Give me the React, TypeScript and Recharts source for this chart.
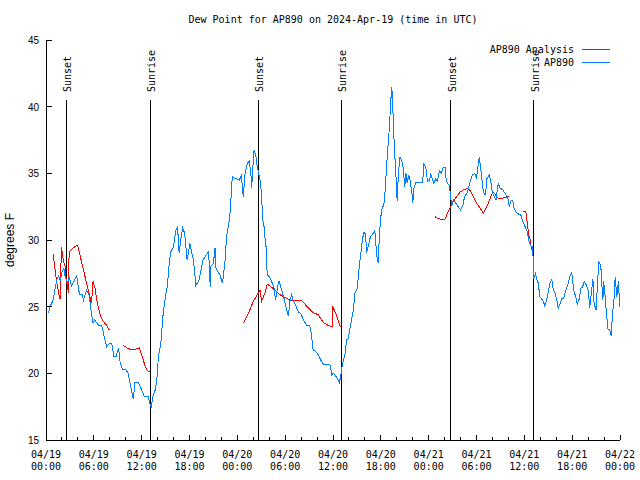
import { LineChart, Line, XAxis, YAxis, ReferenceLine } from 'recharts';

// hours since 2024-04-19 00:00 UTC
const obsHours = [
  0.3, 0.5, 0.9, 1.1, 1.4, 1.6, 1.8, 2.0, 2.25, 2.4, 2.7, 2.9, 3.2, 3.85, 4.2, 4.5, 4.7, 5.1, 5.4, 5.7,
  5.9, 6.1, 6.6, 7.0, 7.4, 7.6, 7.95, 8.25, 8.5, 8.8, 9.1, 9.3, 9.6, 10.0, 10.3, 10.6, 10.95, 11.15, 11.6, 12.0,
  12.3, 12.8, 13.2, 13.4, 13.7, 13.9, 14.1, 14.4, 14.7, 15.05, 15.2, 15.5, 15.65, 16.0, 16.3, 16.5, 16.7, 16.9, 17.15, 17.4,
  17.7, 18.05, 18.3, 18.5, 18.8, 19.2, 19.7, 20.1, 20.4, 20.6, 20.65, 21.0, 21.2, 21.3, 21.8, 22.15, 22.45, 22.65, 23.0, 23.15,
  23.3, 23.4, 23.7, 23.9, 24.25, 24.5, 24.75, 24.95, 25.25, 25.5, 25.7, 25.8, 25.9, 26.1, 26.3, 26.5, 26.75, 26.9, 27.05, 27.2,
  27.35, 27.5, 27.6, 27.75, 28.0, 28.3, 28.6, 28.8, 29.0, 29.2, 29.4, 29.8, 30.1, 30.4, 30.6, 30.8, 31.0, 31.2, 31.65, 31.95,
  32.3, 32.7, 33.1, 33.3, 33.5, 33.9, 34.15, 34.45, 34.8, 35.3, 35.6, 35.85, 36.05, 36.4, 36.8, 37.0, 37.2, 37.5, 37.7, 37.9,
  38.2, 38.55, 38.75, 39.05, 39.3, 39.5, 39.7, 39.9, 40.1, 40.2, 40.4, 40.7, 41.05, 41.25, 41.5, 41.7, 41.8, 42.0, 42.2, 42.35,
  42.5, 42.8, 43.05, 43.25, 43.35, 43.5, 43.55, 43.7, 43.9, 44.05, 44.2, 44.4, 44.65, 44.8, 45.0, 45.15, 45.3, 45.5, 45.65, 45.9,
  46.0, 46.15, 46.4, 46.9, 47.25, 47.4, 47.65, 47.85, 48.15, 48.2, 48.65, 48.9, 49.1, 49.35, 49.6, 49.8, 50.05, 50.2, 50.35, 50.6,
  50.75, 50.9, 51.1, 51.4, 51.7, 52.0, 52.3, 52.5, 52.8, 53.0, 53.2, 53.5, 53.8, 54.0, 54.2, 54.35, 54.5, 54.65, 54.85, 55.05,
  55.15, 55.3, 55.6, 55.8, 56.0, 56.25, 56.45, 56.65, 56.75, 56.95, 57.3, 57.6, 57.8, 58.0, 58.1, 58.3, 58.55, 58.7, 58.95, 59.25,
  59.55, 59.8, 60.1, 60.4, 60.5, 60.7, 60.9, 61.05, 61.1, 61.2, 61.4, 61.55, 61.75, 61.95, 62.2, 62.4, 62.55, 62.8, 63.0, 63.2,
  63.45, 63.6, 63.85, 64.05, 64.25, 64.5, 64.7, 64.9, 65.1, 65.3, 65.5, 65.7, 65.95, 66.05, 66.2, 66.5, 66.65, 66.9, 67.1, 67.3,
  67.5, 67.8, 68.05, 68.2, 68.4, 68.6, 68.75, 69.0, 69.2, 69.35, 69.6, 69.7, 69.85, 69.95, 70.1, 70.3, 70.5, 70.7, 70.9, 71.05,
  71.25, 71.4, 71.6, 71.8, 71.9, 71.95, 72.0,
];
const obsDew = [
  24.5, 25.0, 25.5, 26.25, 27.1, 27.3, 26.9, 27.6, 27.9, 27.25, 26.75, 27.25, 26.55, 27.3, 25.9, 25.95, 25.5, 26.25, 25.9, 24.5,
  23.8, 24.0, 23.6, 23.55, 22.5, 22.0, 22.25, 22.25, 21.3, 21.3, 21.9, 20.8, 20.3, 20.3, 20.0, 19.1, 18.05, 19.3, 19.3, 18.75,
  18.3, 18.25, 17.4, 18.25, 18.75, 19.5, 21.25, 22.25, 24.5, 26.0, 26.45, 28.5, 29.1, 29.5, 30.75, 31.0, 29.0, 30.0, 30.9, 30.5,
  28.5, 29.75, 29.0, 28.5, 26.6, 27.0, 28.5, 28.9, 29.1, 26.5, 28.0, 28.25, 29.4, 27.9, 27.4, 26.75, 28.4, 30.25, 31.5, 32.5,
  34.25, 34.75, 34.6, 34.6, 34.5, 34.8, 33.25, 34.9, 35.75, 35.9, 35.0, 33.9, 35.05, 36.75, 36.4, 35.5, 34.75, 34.4, 33.1, 31.5,
  31.0, 30.0, 29.5, 27.4, 27.25, 26.9, 26.4, 25.5, 26.25, 26.95, 26.6, 25.75, 25.0, 24.3, 25.4, 25.9, 25.5, 25.25, 24.6, 24.5,
  24.0, 23.6, 23.55, 22.9, 21.75, 21.6, 21.4, 21.0, 20.7, 20.7, 20.7, 19.9, 20.0, 19.75, 19.3, 19.9, 20.75, 21.4, 22.5, 22.6,
  23.6, 24.75, 26.0, 26.4, 28.1, 29.0, 30.1, 30.6, 30.4, 29.0, 29.5, 30.25, 30.5, 30.7, 28.75, 28.25, 30.25, 31.75, 32.5, 32.5,
  33.4, 36.25, 38.25, 40.4, 41.5, 40.6, 38.75, 37.0, 34.75, 32.9, 35.0, 36.25, 35.9, 35.4, 34.0, 35.0, 34.25, 34.9, 34.5, 33.5,
  32.75, 33.9, 34.3, 34.3, 34.3, 35.75, 35.4, 34.4, 34.5, 35.0, 34.25, 34.6, 34.4, 35.2, 35.0, 35.4, 35.45, 34.5, 34.25, 34.1,
  33.25, 32.6, 33.0, 32.75, 32.5, 32.25, 32.6, 33.25, 33.5, 33.9, 34.4, 34.9, 35.0, 34.6, 35.6, 36.2, 35.5, 34.75, 33.6, 33.4,
  33.5, 34.6, 34.9, 34.4, 33.5, 33.25, 33.0, 34.0, 34.2, 33.9, 33.75, 33.5, 33.25, 33.0, 32.5, 32.9, 33.0, 32.4, 32.1, 31.95,
  31.9, 31.4, 31.0, 30.6, 30.1, 29.75, 29.5, 29.5, 28.6, 27.1, 27.5, 27.1, 26.75, 25.75, 25.55, 25.4, 25.05, 25.5, 26.1, 26.75,
  27.05, 26.4, 26.0, 25.6, 24.9, 25.25, 25.6, 25.6, 26.0, 26.4, 26.75, 27.25, 27.55, 27.0, 26.25, 25.6, 25.2, 25.6, 26.4, 26.45,
  26.9, 26.6, 26.1, 24.9, 26.0, 27.1, 25.25, 24.75, 27.0, 28.4, 28.0, 26.9, 25.5, 26.9, 26.0, 24.5, 23.3, 23.25, 22.8, 24.4,
  25.6, 27.25, 25.75, 26.9, 25.75, 25.0, 25.0,
];

// analysis values, null = no analysis (gap in line)
const anaHours = [
  0.9, 1.1, 1.35, 1.55, 1.7, 1.85, 1.9, 2.05, 2.2, 2.4, 2.5, 2.7, 2.8, 2.9, 3.2, 3.65, 3.95, 4.25, 4.6, 4.9,
  5.2, 5.45, 5.7, 5.9, 6.15, 6.35, 6.55, 6.85, 7.2, 7.6, 7.95, 8.8,
  9.7, 10.2, 10.75, 11.15, 11.7, 12.0, 12.4, 12.7, 13.05, 18.0,
  24.75, 25.4, 26.0, 26.6, 26.85, 27.05, 27.5, 27.75, 28.3, 28.7, 29.35, 30.7, 32.1, 32.9, 33.5, 34.15, 34.8, 35.4,
  35.9, 35.95, 36.4, 36.9, 42.0,
  48.8, 49.2, 49.6, 50.05, 50.35, 50.7, 51.1, 51.5, 51.95, 52.35, 53.0, 53.4, 54.0, 54.45, 54.85, 55.3, 55.7, 56.05, 56.3, 56.75,
  57.15, 57.6, 58.1, 59.0,
  59.9, 60.2, 60.4, 60.6, 60.75, 60.9,
];
const anaDew = [
  28.95, 28.0, 26.75, 26.25, 25.6, 25.6, 29.5, 29.0, 28.4, 28.0, 27.25, 26.6, 26.0, 29.1, 29.3, 29.5, 29.6, 28.9, 28.0, 27.25,
  26.5, 25.9, 25.25, 26.9, 26.4, 25.6, 25.0, 24.25, 23.9, 23.6, 23.25, null,
  22.1, 21.9, 21.75, 21.8, 21.9, 21.4, 20.6, 20.2, 20.1, null,
  23.75, 24.5, 25.4, 26.0, 26.25, 25.4, 26.1, 26.7, 26.45, 26.25, 25.9, 25.45, 25.45, 24.9, 24.55, 24.4, 23.8, 23.6,
  23.5, 25.05, 24.4, 23.5, null,
  31.75, 31.6, 31.55, 31.55, 32.0, 32.4, 32.9, 33.25, 33.6, 33.75, 33.9, 33.5, 32.75, 32.4, 32.0, 32.5, 33.1, 33.6, 33.45, 33.1,
  33.1, 33.2, 33.25, null,
  32.15, 32.1, 31.1, 30.25, 30.0, 29.25,
];

const sunNames = ['Sunset', 'Sunrise', 'Sunset', 'Sunrise', 'Sunset', 'Sunrise'];
const sunHours = [2.55, 13.05, 26.63, 37.04, 50.77, 61.18];

const xTicks = [
  0, 2, 4, 6, 8, 10, 12, 14, 16, 18, 20, 22, 24, 26, 28, 30, 32, 34, 36,
  38, 40, 42, 44, 46, 48, 50, 52, 54, 56, 58, 60, 62, 64, 66, 68, 70, 72,
];
const xDays = ['04/19', '04/20', '04/21', '04/22'];
const yTicks = [15, 20, 25, 30, 35, 40, 45];

const series = [
  { name: 'AP890 Analysis', color: '#ff0000' },
  { name: 'AP890', color: '#0080ff' },
];

const obsData = obsHours.map((h, i) => ({ h, v: obsDew[i] }));
const anaData = anaHours.map((h, i) => ({ h, v: anaDew[i] }));

const MONO = '"DejaVu Sans Mono", monospace';
const SANS = '"Liberation Sans", Arial, sans-serif';
const CRISP = 'crispEdges';

function BottomTick({ x, y, payload }: any) {
  const h = payload.value;
  const major = h % 6 === 0;
  return (
    <g>
      <line x1={x} y1={y} x2={x} y2={y - (major ? 5 : 3)} stroke="#000" shapeRendering={CRISP} />
      {major && (
        <text x={x} y={y + 18} textAnchor="middle" fontFamily={MONO} fontSize={10} fill="#000">
          <tspan x={x}>{xDays[Math.floor(h / 24)]}</tspan>
          <tspan x={x} dy={12}>{String(h % 24).padStart(2, '0')}:00</tspan>
        </text>
      )}
    </g>
  );
}

function TopTick({ x, y, payload }: any) {
  const major = payload.value % 6 === 0;
  return <line x1={x} y1={y} x2={x} y2={y + (major ? 5 : 3)} stroke="#000" shapeRendering={CRISP} />;
}

function LeftTick({ x, y, payload }: any) {
  return (
    <g>
      <line x1={x} y1={y} x2={x + 6} y2={y} stroke="#000" shapeRendering={CRISP} />
      <text x={x - 7} y={y + 4} textAnchor="end" fontFamily={SANS} fontSize={10} fill="#000">
        {payload.value}
      </text>
    </g>
  );
}

function RightTick({ x, y }: any) {
  return <line x1={x} y1={y} x2={x - 6} y2={y} stroke="#000" shapeRendering={CRISP} />;
}

const sunLabel = (name: string) => ({ viewBox }: any) => (
  <text
    transform={`translate(${viewBox.x + 5},${viewBox.y - 8}) rotate(-90)`}
    fontFamily={MONO}
    fontSize={10}
    fill="#000"
  >
    {name}
  </text>
);

export default function App() {
  return (
    <div style={{ position: 'absolute', left: 0, top: 0, width: 640, height: 480, background: '#fff' }}>
      <LineChart width={640} height={480} margin={{ top: 40, right: 20, bottom: 0, left: 0 }}>
        <XAxis
          xAxisId={0}
          dataKey="h"
          type="number"
          domain={[0, 72]}
          ticks={xTicks}
          interval={0}
          height={40}
          tickSize={0}
          tickMargin={0}
          tickLine={false}
          tick={<BottomTick />}
          axisLine={{ stroke: '#000', shapeRendering: CRISP }}
          allowDataOverflow
        />
        <XAxis
          xAxisId="top"
          orientation="top"
          dataKey="h"
          type="number"
          domain={[0, 72]}
          ticks={xTicks}
          interval={0}
          height={0}
          tickSize={0}
          tickMargin={0}
          tickLine={false}
          tick={<TopTick />}
          axisLine={{ stroke: '#000', shapeRendering: CRISP }}
          allowDataOverflow
        />
        <YAxis
          yAxisId={0}
          type="number"
          domain={[15, 45]}
          ticks={yTicks}
          interval={0}
          width={46}
          tickSize={0}
          tickMargin={0}
          tickLine={false}
          tick={<LeftTick />}
          axisLine={{ stroke: '#000', shapeRendering: CRISP }}
          allowDataOverflow
        />
        <YAxis
          yAxisId="right"
          orientation="right"
          type="number"
          domain={[15, 45]}
          ticks={yTicks}
          interval={0}
          width={0}
          tickSize={0}
          tickMargin={0}
          tickLine={false}
          tick={<RightTick />}
          axisLine={{ stroke: '#000', shapeRendering: CRISP }}
          allowDataOverflow
        />
        {sunHours.map((h, i) => (
          <ReferenceLine
            key={i}
            segment={[{ x: h, y: 40.5 }, { x: h, y: 15 }]}
            stroke="#000"
            strokeWidth={1}
            shapeRendering={CRISP}
            label={sunLabel(sunNames[i])}
          />
        ))}
        <Line
          data={anaData}
          dataKey="v"
          name={series[0].name}
          type="linear"
          stroke={series[0].color}
          strokeWidth={1}
          shapeRendering={CRISP}
          dot={false}
          connectNulls={false}
          isAnimationActive={false}
        />
        <Line
          data={obsData}
          dataKey="v"
          name={series[1].name}
          type="linear"
          stroke={series[1].color}
          strokeWidth={1}
          shapeRendering={CRISP}
          dot={false}
          isAnimationActive={false}
        />
      </LineChart>
      {/* title, axis label and key drawn on top, gnuplot style */}
      <svg width={640} height={480} style={{ position: 'absolute', left: 0, top: 0, pointerEvents: 'none' }}>
        <text x={333} y={23} textAnchor="middle" fontFamily={MONO} fontSize={10} fill="#000">
          Dew Point for AP890 on 2024-Apr-19 (time in UTC)
        </text>
        <text transform="translate(14,240) rotate(-90)" textAnchor="middle" fontFamily={SANS} fontSize={12} fill="#000">
          degrees F
        </text>
        {series.map((s, i) => (
          <g key={s.name}>
            <text x={574} y={53 + i * 13} textAnchor="end" fontFamily={MONO} fontSize={10} fill="#000">
              {s.name}
            </text>
            <line x1={582} y1={49.5 + i * 13} x2={610} y2={49.5 + i * 13} stroke={s.color} shapeRendering={CRISP} />
          </g>
        ))}
      </svg>
    </div>
  );
}
